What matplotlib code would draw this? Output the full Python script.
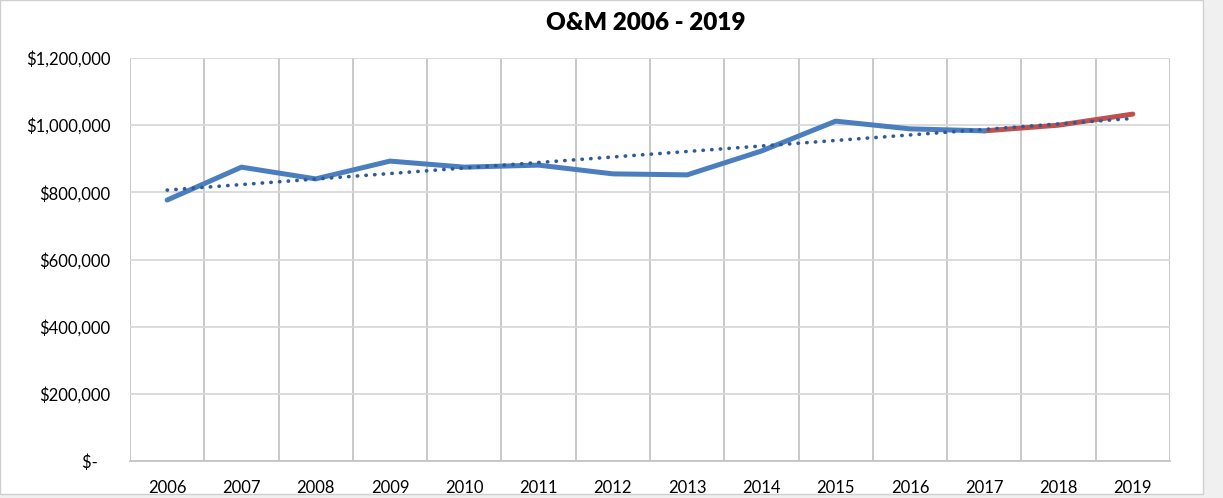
import numpy as np
import matplotlib.pyplot as plt
from matplotlib.patches import Rectangle

years = ['2006', '2007', '2008', '2009', '2010', '2011', '2012',
         '2013', '2014', '2015', '2016', '2017', '2018', '2019']
# O&M cost per year; last three points are the projected segment
om_cost = [777000, 875000, 840000, 893000, 875000, 881000, 855000,
           852000, 923000, 1012000, 989000, 983000, 1000000, 1033000]
n_actual = 12  # 2006-2017
y_ticks = [0, 200000, 400000, 600000, 800000, 1000000, 1200000]
y_labels = ['$-   ', '$200,000', '$400,000', '$600,000', '$800,000',
            '$1,000,000', '$1,200,000']

plt.rcParams['font.family'] = ['Lato', 'DejaVu Sans']

fig = plt.figure(figsize=(12.23, 4.98), dpi=100, facecolor='#f0f0f0')
# white chart area with thin border
fig.patches.append(Rectangle((0, 4 / 498), 1203 / 1223, 494 / 498, transform=fig.transFigure,
                             facecolor='white', edgecolor='#d0d0d0', linewidth=1, zorder=-1))

ax = fig.add_axes([130 / 1223, 37 / 498, 1040 / 1223, 403 / 498])
ax.set_zorder(2)
ax.set_facecolor('none')

x = np.arange(len(years))

# linear trend over all years
coef = np.polyfit(x, om_cost, 1)
ax.plot(x, np.polyval(coef, x), color='#2e5b97', linewidth=2.6,
        linestyle=(0, (0.1, 2.3)), dash_capstyle='round', zorder=4)

ax.plot(x[n_actual - 1:], om_cost[n_actual - 1:], color='#c0504d', linewidth=3.6,
        solid_capstyle='round', zorder=3)
ax.plot(x[:n_actual], om_cost[:n_actual], color='#4a7ebf', linewidth=3.6,
        solid_capstyle='round', solid_joinstyle='round', zorder=3)

ax.set_xlim(-0.5, len(years) - 0.5)
ax.set_ylim(0, 1200000)
ax.set_xticks(x)
ax.set_xticklabels(years)
ax.set_xticks(np.arange(-0.5, len(years), 0.5), minor=True)
ax.set_yticks(y_ticks)
ax.set_yticklabels(y_labels)

ax.grid(True, axis='x', which='minor', color='#c4c4c4', linewidth=1.3)
ax.grid(True, axis='y', which='major', color='#d9d9d9', linewidth=1.3)
ax.set_axisbelow(True)

for side in ['top', 'right', 'left']:
    ax.spines[side].set_visible(False)
ax.spines['bottom'].set_color('#c4c4c4')
ax.spines['bottom'].set_linewidth(1.3)

ax.tick_params(axis='both', which='both', length=0, labelsize=12, colors='#000000')
ax.tick_params(axis='x', pad=14)
ax.tick_params(axis='y', pad=14)

fig.text(646 / 1223, 1 - 23 / 498, 'O&M 2006 - 2019', ha='center', va='center',
         fontsize=17.5, fontweight='heavy')

plt.savefig('out.png', dpi=100, facecolor=fig.get_facecolor())
